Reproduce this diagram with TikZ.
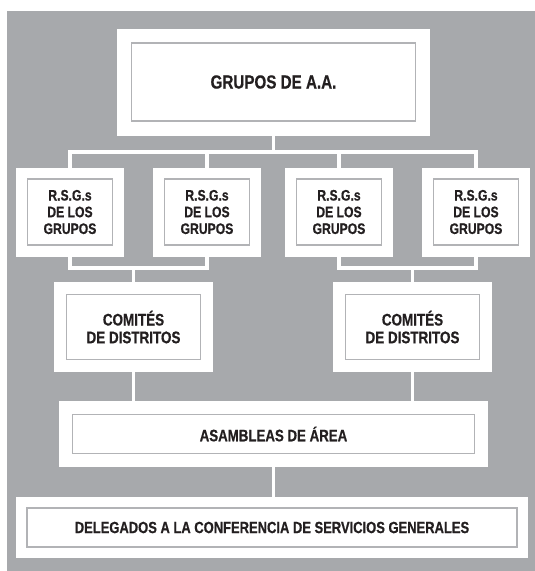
\documentclass[tikz,border=0pt]{standalone}
\usepackage{fontspec}
\newfontfamily\cond[FakeStretch=0.8,UprightFont=* Bold,BoldFont=* Bold,FakeBold=0.6]{Liberation Sans}
\definecolor{bggray}{RGB}{167,169,172}
\definecolor{framegray}{RGB}{178,179,182}
\definecolor{ink}{RGB}{35,31,32}
\pgfdeclarelayer{back}
\pgfdeclarelayer{links}
\pgfsetlayers{back,links,main}

\begin{document}
\begin{tikzpicture}[x=1pt,y=-1pt,
  box/.style={draw=framegray,line width=1.8pt,fill=white,text=ink,align=center,inner sep=0pt,
    preaction={draw=white,line width=#1}},
  box/.default=24pt,
  link/.style={draw=white,line width=3.8pt,line cap=rect},
  rsg/.style={box=23pt,minimum width=85pt,minimum height=66pt,font=\cond\fontsize{15.2}{16.7}\selectfont},
  com/.style={box=25pt,minimum width=134pt,minimum height=65pt,font=\cond\fontsize{16.8}{17.7}\selectfont}]
  \useasboundingbox (0,0) rectangle (535,571);
  \node[box=29pt,minimum width=284pt,minimum height=78pt,font=\cond\fontsize{19}{21}\selectfont] (aa) at (273.5,82) {GRUPOS DE A.A.};
  \node[rsg] (r1) at (70,212) {R.S.G.s\\DE LOS\\GRUPOS};
  \node[rsg] (r2) at (207,212) {R.S.G.s\\DE LOS\\GRUPOS};
  \node[rsg] (r3) at (339,212) {R.S.G.s\\DE LOS\\GRUPOS};
  \node[rsg] (r4) at (476,212) {R.S.G.s\\DE LOS\\GRUPOS};
  \node[com] (c1) at (133.5,327) {COMITÉS\\DE DISTRITOS};
  \node[com] (c2) at (412.5,327) {COMITÉS\\DE DISTRITOS};
  \node[box=27pt,minimum width=402pt,minimum height=39pt,font=\cond\fontsize{16.6}{18}\selectfont] (area) at (273.5,434) {ASAMBLEAS DE ÁREA};
  \node[box=22pt,minimum width=490pt,minimum height=39pt,font=\cond\fontsize{16.2}{18}\selectfont] (conf) at (272,527.5) {DELEGADOS A LA CONFERENCIA DE SERVICIOS GENERALES};
  \begin{pgfonlayer}{back}
    \fill[bggray] (7,11) rectangle (535,571);
  \end{pgfonlayer}
  \begin{pgfonlayer}{links}
    \coordinate (top bus) at (0,152);
    \coordinate (low bus) at (0,268);
    \draw[link] (aa.south) -- (aa.south |- top bus);
    \draw[link] (r1.north) -- (r1.north |- top bus) -| (r4.north);
    \draw[link] (r2.north) -- (r2.north |- top bus);
    \draw[link] (r3.north) -- (r3.north |- top bus);
    \draw[link] (r1.south) -- (r1.south |- low bus) -| (r2.south);
    \draw[link] (r3.south) -- (r3.south |- low bus) -| (r4.south);
    \draw[link] (c1.north) -- (c1.north |- low bus);
    \draw[link] (c2.north) -- (c2.north |- low bus);
    \draw[link] (c1.south) -- (c1.south |- area.north);
    \draw[link] (c2.south) -- (c2.south |- area.north);
    \draw[link] (area.south) -- (area.south |- conf.north);
  \end{pgfonlayer}
\end{tikzpicture}
\end{document}
